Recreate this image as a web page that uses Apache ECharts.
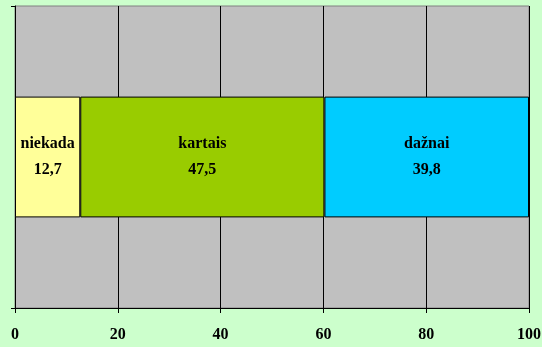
<!DOCTYPE html>
<html>
<head>
<meta charset="utf-8">
<script src="https://cdn.jsdelivr.net/npm/echarts@6/dist/echarts.min.js"></script>
<style>
  html, body { margin: 0; padding: 0; background: #CCFFCC; }
  #chart { width: 542px; height: 347px; }
</style>
</head>
<body>
<div id="chart"></div>
<script>
// Answer shares (percent) for one stacked horizontal bar
const categories = [''];
const seriesNames = ['niekada', 'kartais', 'dažnai'];
const seriesValues = [[12.7], [47.5], [39.8]];
const seriesColors = ['#FFFF99', '#99CC00', '#00CCFF'];
const xTicks = [0, 20, 40, 60, 80, 100];

const fontFamily = '"Liberation Serif", "DejaVu Serif", serif';

const chart = echarts.init(document.getElementById('chart'), null, { renderer: 'canvas' });

chart.setOption({
  backgroundColor: '#CCFFCC',
  animation: false,
  grid: {
    left: 15, right: 13, top: 6, bottom: 39,
    outerBoundsMode: 'none',
    containLabel: false,
    show: true,
    backgroundColor: '#C0C0C0',
    borderColor: '#808080',
    borderWidth: 1
  },
  xAxis: {
    type: 'value',
    min: xTicks[0],
    max: xTicks[xTicks.length - 1],
    interval: 20,
    axisLine: { show: true, lineStyle: { color: '#000', width: 1 } },
    axisTick: { show: true, length: 5, lineStyle: { color: '#000' } },
    splitLine: { show: true, lineStyle: { color: '#000', width: 1 } },
    axisLabel: {
      margin: 19,
      color: '#000',
      fontFamily: fontFamily,
      fontWeight: 'bold',
      fontSize: 16
    }
  },
  yAxis: {
    type: 'category',
    data: categories,
    axisLine: { show: true, lineStyle: { color: '#000', width: 1 } },
    axisTick: { show: true, length: 4, lineStyle: { color: '#000' } },
    axisLabel: { show: false }
  },
  series: seriesNames.map((name, i) => ({
    name: name,
    type: 'bar',
    stack: 'total',
    barWidth: '40%',
    data: seriesValues[i],
    itemStyle: { color: seriesColors[i], borderColor: '#000', borderWidth: 1 },
    label: {
      show: true,
      position: 'inside',
      color: '#000',
      fontFamily: fontFamily,
      fontWeight: 'bold',
      fontSize: 16,
      lineHeight: 26,
      formatter: p => p.seriesName + '\n' + String(p.value).replace('.', ',')
    }
  }))
});
</script>
</body>
</html>
